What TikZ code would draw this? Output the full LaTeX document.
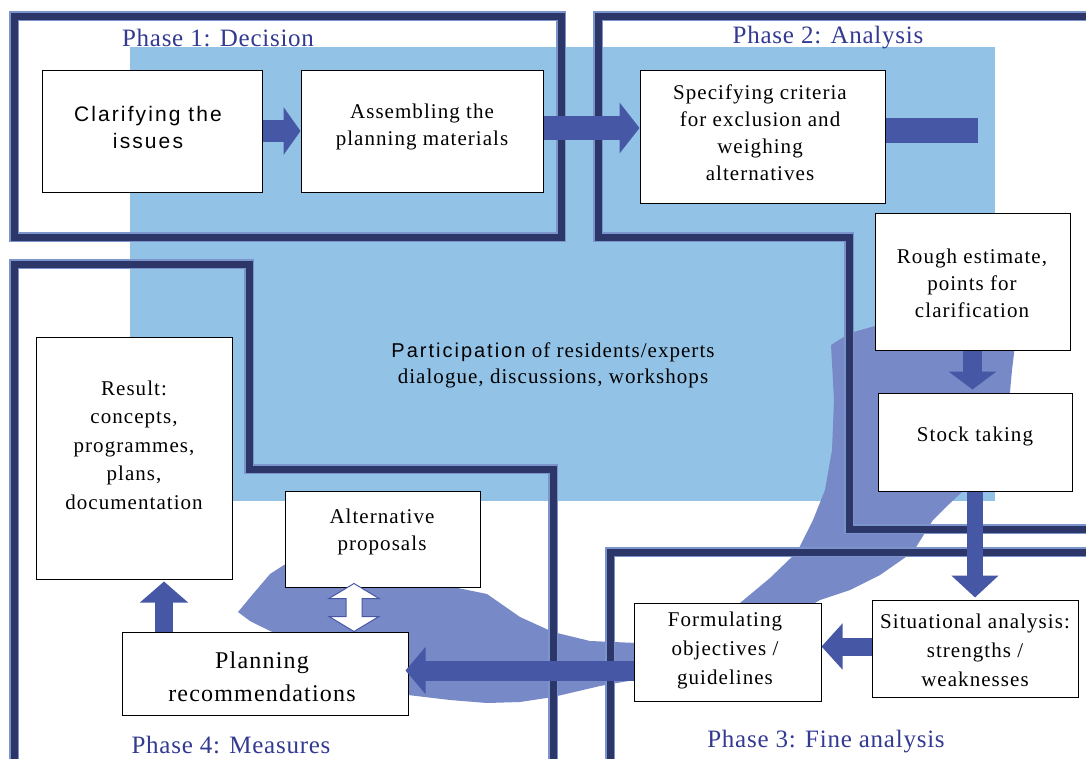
\documentclass[tikz,border=0pt]{standalone}
\usepackage{fontspec}
\setmainfont[LetterSpace=5]{Liberation Serif}
\newfontfamily\phasefont[LetterSpace=3]{Liberation Serif}
\newfontfamily\sansls[LetterSpace=10]{Liberation Sans}
\usetikzlibrary{arrows.meta,calc}
\definecolor{lblue}{HTML}{92C2E6}
\definecolor{swooshc}{HTML}{7789C6}
\definecolor{arrblue}{HTML}{4657A6}
\definecolor{framec}{HTML}{2C3669}
\definecolor{frameedge}{HTML}{7B95CC}
\definecolor{phasec}{HTML}{333A92}
\begin{document}
\begin{tikzpicture}[x=1pt,y=-1pt,
  box/.style={draw=black,fill=white,line width=1pt,inner sep=0pt},
  txt/.style={align=center,font=\fontsize{21}{27}\selectfont,inner sep=0pt},
  phase/.style={text=phasec,font=\phasefont\fontsize{25}{28}\selectfont,inner sep=0pt},
  fr/.style={preaction={draw=frameedge,line width=9.5pt},draw=framec,line width=7pt,line join=miter},
  barrow/.style={draw=arrblue,line cap=butt},
  dbl/.style={draw=arrblue,fill=white,line width=1pt,line join=miter}
]
\useasboundingbox (0,0) rectangle (1086,758);
\fill[white] (0,0) rectangle (1086,758);
\clip (0,0) rectangle (1086,758);

% light blue participation area
\fill[lblue] (130,47) rectangle (995,501);

% swoosh
\fill[swooshc] (238,612) -- (253,594) -- (270,574) -- (284,565) -- (330,560) -- (453,587) -- (487,594) -- (520,617) -- (553,632) -- (590,641) -- (637,643) -- (700,625) -- (740,603) -- (770,578) -- (797,552) -- (813,520) -- (825,490) -- (832,450) -- (834,400) -- (831,345) -- (850,333) -- (875,326) -- (940,325) -- (1015,345) -- (1012,370) -- (1010,392) -- (990,450) -- (962,492) -- (945,508) -- (933,520) -- (913,552) -- (880,575) -- (850,590) -- (820,600) -- (700,670) -- (634,680) -- (600,686) -- (553,697) -- (520,702) -- (487,703) -- (450,700) -- (408,695) -- (330,660) -- (262,627) -- (250,621) -- cycle;

% phase frames
\draw[fr] (14,16) rectangle (561,237);
\draw[fr] (1100,16) -- (598,16) -- (598,237) -- (849,237) -- (849,529) -- (1100,529);
\draw[fr] (14,780) -- (14,264) -- (249,264) -- (249,469) -- (553,469) -- (553,780);
\draw[fr] (610,780) -- (610,552) -- (1100,552);

% boxes
\node[box,minimum width=220pt,minimum height=122pt] (clar) at (152,131) {};
\node[box,minimum width=242pt,minimum height=122pt] (assem) at (422,131) {};
\node[box,minimum width=245pt,minimum height=133pt] (spec) at (762.5,136.5) {};
\node[box,minimum width=195pt,minimum height=137pt] (rough) at (972.5,281.5) {};
\node[box,minimum width=194pt,minimum height=98pt] (stock) at (975,442) {};
\node[box,minimum width=206pt,minimum height=97pt] (situ) at (975,648.5) {};
\node[box,minimum width=187pt,minimum height=98pt] (form) at (727.5,652) {};
\node[box,minimum width=286pt,minimum height=83pt] (plan) at (265,673.5) {};
\node[box,minimum width=195pt,minimum height=96pt] (alt) at (382.5,539) {};
\node[box,minimum width=196pt,minimum height=242pt] (result) at (134,458) {};

% block arrows
\draw[barrow,line width=22pt,-{Triangle[length=17pt,width=47pt]}] (clar.east) -- (assem.west);
\draw[barrow,line width=24pt,-{Triangle[length=20pt,width=50pt]}] ([yshift=3pt]assem.east) -- ([yshift=3pt]spec.west |- assem.east);
\coordinate (stubend) at (978,130.5);
\draw[barrow,line width=25pt] (spec.east |- stubend) -- (stubend);
\draw[barrow,line width=19pt,-{Triangle[length=18pt,width=47pt]}] (rough.south) -- ([yshift=3pt]rough.south |- stock.north);
\draw[barrow,line width=16pt,-{Triangle[length=22pt,width=46pt]}] (stock.south) -- ([yshift=2pt]situ.north);
\draw[barrow,line width=18pt,-{Triangle[length=21pt,width=45pt]}] ([yshift=2pt]situ.west) -- ([yshift=2pt]form.east |- situ.west);
\draw[barrow,line width=20pt,-{Triangle[length=20pt,width=46pt]}] ([yshift=3pt]form.west |- plan.east) -- ([yshift=3pt,xshift=-3pt]plan.east);
\coordinate (upx) at (164,0);
\draw[barrow,line width=18pt,-{Triangle[length=21pt,width=47pt]}] (upx |- plan.north) -- ([yshift=-2pt]upx |- result.south);

% double white arrow
\coordinate (dax) at (354,0);
\draw[dbl] let \p1=([yshift=4pt]dax |- alt.south), \p2=(dax |- plan.north) in
  (\x1,\y1) -- (\x1+25pt,\y1-15pt) -- (\x1+8pt,\y1-15pt) -- (\x1+8pt,\y2+15pt) -- (\x1+25pt,\y2+15pt) -- (\x1,\y2)
  -- (\x1-25pt,\y2+15pt) -- (\x1-8pt,\y2+15pt) -- (\x1-8pt,\y1-15pt) -- (\x1-25pt,\y1-15pt) -- cycle;

% texts
\node[txt,font=\sansls\fontsize{21}{27}\selectfont] (clarT) at (148,127) {Clarifying the\\issues};
\node[txt] (assemT) at (422,127) {Assembling the\\planning materials};
\node[txt] (specT) at (760,133) {Specifying criteria\\for exclusion and\\weighing\\alternatives};
\node[txt] (roughT) at (972,283) {Rough estimate,\\points for\\clarification};
\node[txt] (stockT) at (975,436) {Stock taking};
\node[txt,font=\fontsize{21}{29}\selectfont] (situT) at (975,650) {Situational analysis:\\strengths /\\weaknesses};
\node[txt,font=\fontsize{21}{29}\selectfont] (formT) at (725,650) {Formulating\\objectives /\\guidelines};
\node[txt,font=\fontsize{24}{33}\selectfont] (planT) at (262,677) {Planning\\recommendations};
\node[txt] (altT) at (382,532) {Alternative\\proposals};
\node[txt,font=\fontsize{21}{28.5}\selectfont] (resultT) at (134,445) {Result:\\concepts,\\programmes,\\plans,\\documentation};
\node[txt,font=\fontsize{21}{26}\selectfont] (partT) at (553,365) {{\sansls\fontsize{20}{26}\selectfont Participation} of residents/experts\\dialogue, discussions, workshops};

\node[phase] (p1) at (218,38) {Phase 1: Decision};
\node[phase] (p2) at (828,38) {Phase 2: Analysis};
\node[phase] (p4) at (231,745) {Phase 4: Measures};
\node[phase] (p3) at (826,742) {Phase 3: Fine analysis};
\end{tikzpicture}
\end{document}
